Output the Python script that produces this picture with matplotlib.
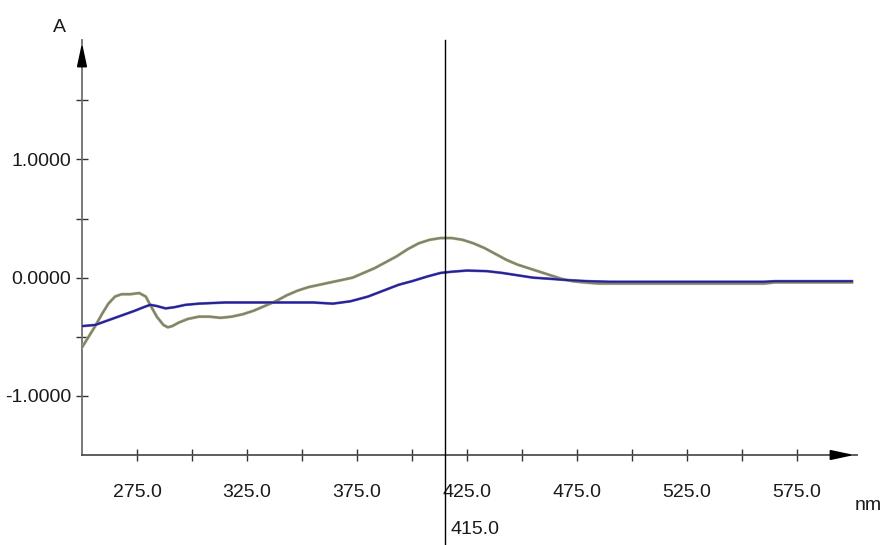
import matplotlib.pyplot as plt

# readings (nm, A)
wl_a = [250, 253, 256, 259, 262, 265, 268, 272, 276, 279, 281, 284, 287, 289, 291, 294,
        298, 303, 308, 313, 318, 323, 328, 333, 338, 343, 348, 353, 358, 363, 368, 373,
        378, 383, 388, 393, 398, 403, 408, 413, 418, 423, 428, 433, 438, 443, 448, 453,
        458, 463, 468, 473, 478, 485, 500, 520, 540, 560, 565, 580, 600]
abs_a = [-0.59, -0.50, -0.41, -0.31, -0.22, -0.16, -0.14, -0.14, -0.13, -0.16, -0.23, -0.33,
         -0.40, -0.42, -0.41, -0.38, -0.35, -0.33, -0.33, -0.34, -0.33, -0.31, -0.28, -0.24,
         -0.20, -0.15, -0.11, -0.08, -0.06, -0.04, -0.02, 0.00, 0.04, 0.08, 0.13, 0.18,
         0.24, 0.29, 0.32, 0.335, 0.335, 0.32, 0.29, 0.25, 0.20, 0.15, 0.11, 0.08, 0.05,
         0.02, -0.01, -0.03, -0.04, -0.05, -0.05, -0.05, -0.05, -0.05, -0.04, -0.04, -0.04]

wl_b = [250, 256, 262, 268, 274, 278, 281, 284, 288, 292, 297, 303, 315, 330, 345, 355,
        364, 372, 380, 387, 394, 400, 407, 413, 418, 425, 434, 441, 448, 455, 463, 470,
        480, 490, 520, 560, 565, 600]
abs_b = [-0.41, -0.40, -0.36, -0.32, -0.28, -0.25, -0.23, -0.24, -0.26, -0.25, -0.23, -0.22,
         -0.21, -0.21, -0.21, -0.21, -0.22, -0.20, -0.16, -0.11, -0.06, -0.03, 0.01, 0.04,
         0.05, 0.06, 0.055, 0.04, 0.02, 0.00, -0.01, -0.02, -0.03, -0.035, -0.035, -0.035,
         -0.03, -0.03]

x_ticks = [275, 325, 375, 425, 475, 525, 575]
x_minor = [300, 350, 400, 450, 500, 550]
y_ticks = [1.0, 0.0, -1.0]
y_minor = [1.5, 0.5, -0.5]
cursor_nm = 415.0

plt.rcParams["font.family"] = ["Liberation Sans", "DejaVu Sans"]
fs = 14

W, H = 882, 545
fig = plt.figure(figsize=(W / 100, H / 100), dpi=100)
ax = fig.add_axes([82 / W, (H - 455) / H, 775 / W, 415 / H])
ax.set_xlim(250, 602.3)
ax.set_ylim(-1.5, 2.01)

# spectra (overlaid traces)
ax.plot(wl_a, abs_a, color="#c8c860", lw=2.2, zorder=3)
ax.plot(wl_a, abs_a, color="#808080", lw=1.6, zorder=4)
ax.plot(wl_b, abs_b, color="#7b6fd6", lw=2.0, zorder=3)
ax.plot(wl_b, abs_b, color="#23238f", lw=1.4, zorder=4)

for s in ["top", "right"]:
    ax.spines[s].set_visible(False)
ax.spines["left"].set_color("#6e6e6e")
ax.spines["bottom"].set_color("#505050")
ax.spines["left"].set_linewidth(1.3)
ax.spines["bottom"].set_linewidth(1.3)

ax.set_xticks(x_ticks)
ax.set_xticks(x_minor, minor=True)
ax.set_xticklabels([f"{v:.1f}" for v in x_ticks])
ax.set_yticks(y_ticks)
ax.set_yticks(y_minor, minor=True)
ax.set_yticklabels([f"{v:.4f}" for v in y_ticks])
for which in ["major", "minor"]:
    ax.tick_params(axis="both", which=which, direction="inout", length=8, width=1,
                   color="#333333")
ax.tick_params(axis="x", which="major", pad=17, labelsize=fs, labelcolor="#1a1a1a")
ax.tick_params(axis="y", which="major", pad=4, labelsize=fs, labelcolor="#1a1a1a")

# axis arrows
ax.annotate("", xy=(0, 1.0), xytext=(0, 0.93), xycoords="axes fraction",
            arrowprops=dict(arrowstyle="-|>,head_length=1.4,head_width=0.3",
                            color="black", lw=1.3), annotation_clip=False)
ax.annotate("", xy=(1.0, 0), xytext=(0.97, 0), xycoords="axes fraction",
            arrowprops=dict(arrowstyle="-|>,head_length=1.4,head_width=0.3",
                            color="black", lw=1.3), annotation_clip=False)

# cursor line
ax.axvline(cursor_nm, ymin=-0.22, ymax=1.0, color="black", lw=1, clip_on=False, zorder=5)
ax.text(cursor_nm + 2.5, -1.5 - (530 - 455) / 118.5, f"{cursor_nm:.1f}",
        fontsize=fs, color="#1a1a1a", ha="left", va="center", clip_on=False)

fig.text(59 / W, 1 - 27 / H, "A", fontsize=fs, ha="center", va="center", color="#1a1a1a")
fig.text(868 / W, 1 - 505 / H, "nm", fontsize=fs, ha="center", va="center", color="#1a1a1a")

fig.savefig("out.png", dpi=100)
